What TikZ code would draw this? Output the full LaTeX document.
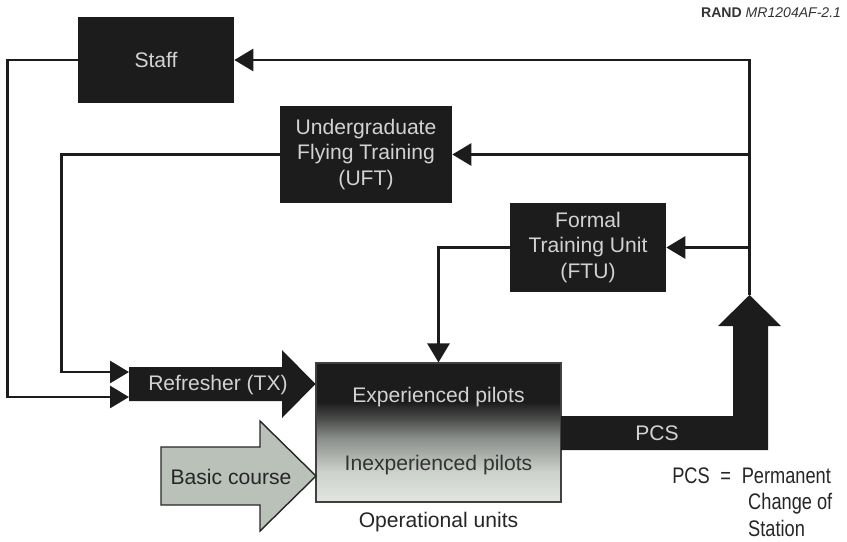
\documentclass[tikz,border=0pt]{standalone}
\usepackage{fontspec}
\setmainfont{Liberation Sans}
\newfontfamily\narrowsans[FakeStretch = 0.81]{Liberation Sans}
\usetikzlibrary{arrows.meta}

\definecolor{boxgray}{HTML}{1C1C1C}
\definecolor{textgray}{HTML}{D2D2D2}
\definecolor{basicgray}{HTML}{B9C1B9}
\definecolor{opslight}{HTML}{E2E6E1}
\definecolor{opspale}{HTML}{CDD1CC}
\definecolor{opsmid}{HTML}{8A8E8A}
\definecolor{opsdim}{HTML}{4A4C4A}
\pgfdeclareverticalshading{opsshade}{100bp}{color(0bp)=(opslight); color(25bp)=(opslight); color(36bp)=(opspale); color(48bp)=(opsmid); color(55bp)=(opsdim); color(61bp)=(boxgray); color(100bp)=(boxgray)}

\begin{document}
\begin{tikzpicture}[x = 0.025cm, y = -0.025cm, > = {Triangle[length = 13.5pt, width = 15.6pt]},
	txt/.style = {font = \fontsize{15}{18}\selectfont},
	box/.style = {txt, fill = boxgray, text = textgray, align = center},
	link/.style = {line width = 2.1pt, boxgray}]

	\useasboundingbox (0, 0) rectangle (847, 541);

	% Boxes
	
	\node [box, minimum width = 3.9cm, minimum height = 2.15cm] (staff) at (156, 60) {Staff};
	\node [box, minimum width = 4.3cm, minimum height = 2.425cm] (uft) at (366, 154.5) {Undergraduate\\Flying Training\\(UFT)};
	\node [box, minimum width = 3.9cm, minimum height = 2.225cm] (ftu) at (588, 247.5) {Formal\\Training Unit\\(FTU)};
	
	% Operational units
	
	\node [draw = black!75, line width = 0.8pt, shading = opsshade, minimum width = 6.125cm, minimum height = 3.475cm] (ops) at (438.5, 432.5) {};
	\node [txt, text = textgray] (exp) at (438.5, 397) {Experienced pilots};
	\node [txt, text = black!80] (inexp) at (438.5, 465) {Inexperienced pilots};
	\node [txt, text = black!85] (opsname) at (438.5, 522) {Operational units};
	
	% PCS arrow
	
	\fill [boxgray] (561, 416) -- (733, 416) -- (733, 326) -- (718, 326) -- (749.5, 295) -- (781, 326) -- (768, 326) -- (768, 450) -- (561, 450) -- cycle;
	\node [txt, text = textgray] (pcs) at (657, 433) {PCS};
	\coordinate (pcstip) at (749.5, 295);
	\coordinate (turn) at (749.5, 60);
	
	% Refresher + basic course arrows
	
	\fill [boxgray] (129, 367) -- (282, 367) -- (282, 350) -- (315.5, 384) -- (282, 418) -- (282, 401) -- (129, 401) -- cycle;
	\node [txt, text = textgray] (tx) at (218, 385) {Refresher (TX)};
	\coordinate (txin1) at (129, 372);
	\coordinate (txin2) at (129, 397);
	
	\filldraw [fill = basicgray, draw = black!85, line width = 1pt] (161, 447) -- (260, 447) -- (260, 421) -- (316, 476) -- (260, 531) -- (260, 505) -- (161, 505) -- cycle;
	\node [txt, text = black!85] (basic) at (231, 477) {Basic course};
	
	% Flows
	
	\draw [link, ->] (pcstip) -- (turn) -- (staff.east);
	\draw [link, ->] (pcstip |- uft.east) -- (uft.east);
	\draw [link, ->] (pcstip |- ftu.east) -- (ftu.east);
	\draw [link, ->] (ftu.west) -| (ops.north);
	\draw [link, ->] (uft.west) -- ++(-218, 0) |- (txin1);
	\draw [link, ->] (staff.west) -- ++(-70, 0) |- (txin2);
	
	% Labels
	
	\node [anchor = north west, align = left, inner sep = 0pt, font = \narrowsans\fontsize{16}{19}\selectfont, text = black!85] (legend) at (672, 467) {PCS \hspace{4pt}=\hspace{4pt} Permanent\\\hspace*{54pt}Change of\\\hspace*{54pt}Station};
	\node [anchor = east, font = \fontsize{10}{12}\selectfont, text = black!80] (rand) at (846, 13) {\textbf{RAND} \textit{MR1204AF-2.1}};
	
\end{tikzpicture}
\end{document}
